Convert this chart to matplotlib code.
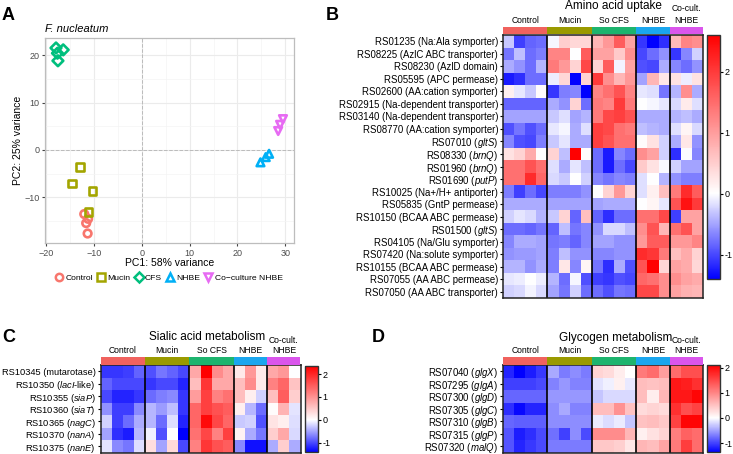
import numpy as np
import matplotlib
matplotlib.use("Agg")
import matplotlib.pyplot as plt
from matplotlib.colors import LinearSegmentedColormap
from matplotlib.lines import Line2D

plt.rcParams['font.family'] = ['Liberation Sans', 'DejaVu Sans']
plt.rcParams['mathtext.fontset'] = 'custom'
plt.rcParams['mathtext.rm'] = 'Liberation Sans'
plt.rcParams['mathtext.it'] = 'Liberation Sans:italic'

W, H = 733, 454

# ---- PCA (panel A) ----
pca_groups = ["Control", "Mucin", "CFS", "NHBE", "Co\u2212culture NHBE"]
pca_colors = ["#F8766D", "#A3A500", "#00BF7D", "#00B0F6", "#E76BF3"]
pca_markers = ["o", "s", "D", "^", "v"]
control_pc1 = [-12.0, -11.2, -11.6, -11.3]
control_pc2 = [-13.5, -14.5, -15.4, -17.6]
mucin_pc1 = [-12.9, -14.6, -10.3, -11.1]
mucin_pc2 = [-3.6, -7.1, -8.6, -13.1]
cfs_pc1 = [-17.9, -16.4, -17.6, -17.5]
cfs_pc2 = [21.5, 21.1, 20.4, 18.8]
nhbe_pc1 = [24.8, 25.9, 26.6]
nhbe_pc2 = [-2.6, -1.5, -0.8]
cocult_pc1 = [29.5, 28.9, 28.5]
cocult_pc2 = [6.5, 5.3, 4.0]

# ---- heatmap columns ----
conditions = ["Control", "Mucin", "So CFS", "NHBE", "Co-cult.\nNHBE"]
cond_sizes = [4, 4, 4, 3, 3]
cond_colors = ["#F0625E", "#9A9A00", "#1DB46E", "#1AA6EE", "#DA55EC"]

amino_genes = ["RS01235 (Na:Ala symporter)", "RS08225 (AzlC ABC transporter)",
               "RS08230 (AzlD domain)", "RS05595 (APC permease)",
               "RS02600 (AA:cation symporter)", "RS02915 (Na-dependent transporter)",
               "RS03140 (Na-dependent transporter)", "RS08770 (AA:cation symporter)",
               r"RS07010 ($\mathit{gltS}$)", r"RS08330 ($\mathit{brnQ}$)",
               r"RS01960 ($\mathit{brnQ}$)", r"RS01690 ($\mathit{putP}$)",
               "RS10025 (Na+/H+ antiporter)", "RS05835 (GntP permease)",
               "RS10150 (BCAA ABC permease)", r"RS01500 ($\mathit{gltS}$)",
               "RS04105 (Na/Glu symporter)", "RS07420 (Na:solute symporter)",
               "RS10155 (BCAA ABC permease)", "RS07055 (AA ABC permease)",
               "RS07050 (AA ABC transporter)"]
amino_values = [
    [-0.3, -1.05, -0.85, -0.8, -0.05, 0.5, 0.4, 0.4, 0.75, 1.05, 1.65, 0.95, -1.1, -1.4, -1.15, 0.7, 1.25, 1.15],
    [-0.75, -0.35, -0.8, -0.7, 1.25, 1.25, 0.0, 1.65, 0.95, 0.95, 0.55, 1.15, -1.0, -0.8, -0.6, -1.1, -0.65, -0.25],
    [-0.45, -0.6, -0.8, -0.4, 1.35, 1.05, 0.45, 1.85, 0.45, 1.65, -0.06, 0.95, -0.95, -1.0, -0.45, -0.65, -0.8, -0.6],
    [-1.25, -1.15, -0.8, -0.8, -0.1, 0.4, -1.4, 0.45, 2.0, 1.15, 0.75, 1.05, -0.5, 0.75, 0.25, 0.3, -0.1, 0.3],
    [0.15, -0.12, -0.3, 0.05, -1.1, -0.7, -0.65, -1.4, 1.25, 1.45, 1.75, 1.25, -0.12, -0.18, -0.75, -0.4, 1.15, -0.45],
    [-0.85, -0.85, -0.85, -0.85, -0.45, -0.6, 0.45, -0.8, 1.35, 1.25, 2.0, 1.35, 0.0, -0.05, -0.12, -0.2, 0.2, -0.18],
    [-0.5, -0.5, -0.5, -0.5, -0.3, -0.18, -0.5, -0.4, 1.35, 1.85, 1.95, 1.75, -0.45, -0.45, -0.45, -0.4, -0.35, -0.45],
    [-0.95, -0.75, -0.95, -0.8, -0.12, -0.05, -0.45, -0.18, 1.95, 1.85, 1.45, 1.35, -0.35, -0.4, -0.45, -0.18, 0.1, -0.2],
    [-0.65, -0.95, -1.0, -0.7, -0.3, -0.15, -0.45, -0.45, 1.95, 1.75, 1.45, 1.45, 0.05, 0.3, -0.25, -0.45, 0.25, -0.6],
    [0.3, 0.45, 0.85, 0.03, 0.45, -0.35, 2.6, 0.03, -0.8, -1.25, -0.65, -0.8, 1.15, 0.95, -0.25, -1.15, -0.02, -0.65],
    [1.45, 1.45, 1.75, 1.45, -0.18, -0.45, -0.15, -0.35, -0.8, -1.25, -0.8, -1.0, 0.55, 0.3, -0.03, -0.25, -0.5, -0.5],
    [1.45, 1.45, 2.15, 1.55, -0.2, -0.3, 0.0, -0.25, -0.65, -0.75, -0.65, -0.7, -0.18, 0.0, -0.4, -0.6, -0.7, -0.7],
    [-0.7, -1.05, -0.8, -1.0, -0.7, -0.7, -0.7, -0.6, 0.0, 0.45, 1.05, 0.45, -0.18, 0.15, 0.65, 1.35, 2.15, 1.65],
    [-0.45, -0.45, -0.45, -0.45, -0.5, -0.5, -0.5, -0.5, -0.5, -0.45, -0.45, -0.45, 0.0, 0.1, -0.12, 1.75, 2.4, 2.0],
    [-0.25, -0.15, -0.2, -0.4, -0.3, 0.45, -0.85, 0.65, -0.85, -1.15, -0.8, -0.8, 1.45, 1.45, 1.85, -1.05, 0.95, 0.95],
    [-0.8, -0.8, -0.85, -0.75, -0.85, -0.35, -0.75, -0.65, -0.6, -0.2, -0.2, -0.35, 1.15, 1.75, 0.75, 1.45, 1.75, 0.95],
    [-0.65, -0.45, -0.45, -0.5, -0.75, -0.7, -0.85, -0.65, -0.5, -0.5, -0.6, -0.6, 1.05, 1.65, 1.65, 1.05, 1.05, 1.25],
    [-0.6, -0.55, -0.55, -0.5, -0.7, -0.35, -0.6, -0.6, -0.65, -0.65, -0.6, -0.6, 2.15, 2.05, 1.35, 0.65, 0.85, 0.45],
    [-0.4, -0.4, -0.6, -0.45, -0.7, 0.25, -0.65, 0.1, -0.75, -1.15, -0.45, -0.95, 1.75, 2.6, 0.4, 0.95, 0.85, 0.4],
    [-0.12, -0.1, 0.0, -0.1, -0.4, -0.8, -0.05, -0.95, -1.05, -1.1, -0.95, -1.0, 1.55, 1.45, 1.15, 1.15, 0.95, 0.85],
    [-0.25, -0.2, -0.06, -0.2, -0.5, -0.75, -0.25, -0.8, -0.8, -0.95, -0.75, -0.8, 1.85, 1.85, 1.15, 0.95, 0.8, 0.75],
]

sialic_genes = ["RS10345 (mutarotase)", r"RS10350 ($\mathit{lacI}$-like)",
                r"RS10355 ($\mathit{siaP}$)", r"RS10360 ($\mathit{siaT}$)",
                r"RS10365 ($\mathit{nagC}$)", r"RS10370 ($\mathit{nanA}$)",
                r"RS10375 ($\mathit{nanE}$)"]
sialic_values = [
    [-1.1, -1.1, -1.05, -0.85, -0.95, -0.75, -0.85, -1.0, 0.8, 2.35, 1.05, 0.8, 0.2, 0.95, 0.2, 0.8, 0.95, 0.0],
    [-0.85, -1.0, -1.0, -1.0, -1.1, -1.0, -1.0, -1.2, 0.6, 1.85, 0.8, 0.8, 0.6, 1.05, 0.2, 1.15, 1.4, 0.55],
    [-1.0, -1.2, -1.2, -1.1, -0.8, -0.7, -0.65, -1.1, 0.9, 1.75, 1.15, 1.3, 0.6, 0.15, -0.25, 0.6, 1.5, 0.45],
    [-0.6, -1.05, -1.05, -0.65, -0.4, -0.55, -0.35, -1.1, 1.4, 1.75, 1.6, 1.5, 0.15, -0.4, -0.8, 0.03, 0.7, -0.15],
    [-0.25, -1.05, -0.8, -0.45, -0.4, -0.8, -0.18, -1.2, 1.4, 2.25, 1.7, 1.4, -0.3, -0.25, -0.95, 0.25, 0.15, -0.18],
    [-0.5, -1.15, -1.25, -0.4, -0.08, -0.95, 0.0, -1.4, 1.3, 1.7, 1.15, 1.75, 0.12, -0.45, -0.75, 0.45, 0.8, -0.2],
    [-0.15, -0.65, -0.75, -0.18, 0.3, -0.5, 0.35, -1.0, 1.15, 1.85, 1.6, 1.5, -0.65, -1.3, -1.3, -0.45, 0.45, -0.45],
]

glycogen_genes = [r"RS07040 ($\mathit{glgX}$)", r"RS07295 ($\mathit{glgA}$)",
                  r"RS07300 ($\mathit{glgD}$)", r"RS07305 ($\mathit{glgC}$)",
                  r"RS07310 ($\mathit{glgB}$)", r"RS07315 ($\mathit{glgP}$)",
                  r"RS07320 ($\mathit{malQ}$)"]
glycogen_values = [
    [-1.15, -1.35, -1.2, -1.05, -0.45, -0.7, -0.6, -0.7, 0.35, 0.3, 0.15, 0.0, 1.1, 1.2, 0.8, 1.2, 1.45, 1.45],
    [-1.0, -1.0, -1.0, -0.95, -0.65, -0.55, -0.65, -0.65, -0.15, -0.08, 0.12, -0.12, 0.55, 0.5, 0.55, 1.9, 1.85, 1.7],
    [-0.8, -0.8, -0.8, -0.8, -0.55, -0.55, -0.55, -0.55, -0.3, -0.2, -0.2, -0.2, 0.55, 0.15, 0.6, 1.9, 1.9, 2.05],
    [-1.1, -1.3, -1.15, -1.15, -0.6, -0.45, -0.65, -0.65, 0.55, 0.55, 0.9, 0.5, 0.3, 0.35, 0.3, 1.7, 1.45, 1.55],
    [-0.8, -0.85, -0.85, -0.85, -0.6, -0.6, -0.6, -0.6, -0.1, -0.18, -0.1, -0.3, 0.5, 0.55, 0.45, 1.55, 2.05, 2.05],
    [-0.9, -1.2, -1.1, -0.95, -0.75, -1.0, -0.6, -0.95, 0.95, 0.95, 0.95, 0.6, 0.12, 0.25, 0.35, 1.05, 1.3, 1.2],
    [-0.9, -1.15, -1.05, -0.95, -0.7, -0.7, -0.7, -0.7, 0.45, 0.45, 0.4, 0.2, 0.6, 0.55, 0.75, 1.1, 1.6, 1.2],
]


def box(x0, y0, x1, y1):
    # pixel box (top-left origin) -> figure fraction rect
    return [x0 / W, 1 - y1 / H, (x1 - x0) / W, (y1 - y0) / H]


def ftext(x, y, s, **kw):
    fig.text(x / W, 1 - y / H, s, **kw)


fig = plt.figure(figsize=(W / 100, H / 100), dpi=100)

# ---------------- panel A ----------------
ax = fig.add_axes(box(45, 38, 293.5, 243))
ax.set_xlim(-20.2, 31.7)
ax.set_ylim(-19.6, 23.6)
ax.set_xticks([-20, -10, 0, 10, 20, 30])
ax.set_xticks([-15, -5, 5, 15, 25], minor=True)
ax.set_yticks([-10, 0, 10, 20])
ax.set_yticks([-15, -5, 5, 15], minor=True)
ax.grid(which="major", color="#ebebeb", lw=0.8)
ax.grid(which="minor", color="#f4f4f4", lw=0.5)
ax.set_axisbelow(True)
ax.tick_params(which="minor", length=0)
ax.tick_params(which="major", length=2.5, color="#444444", labelsize=6.5,
               labelcolor="#4d4d4d", pad=1.5)
for s in ax.spines.values():
    s.set_color("#bdbdbd")
    s.set_linewidth(0.9)
ax.axhline(0, ls="--", color="#bbbbbb", lw=0.7, zorder=1)
ax.axvline(0, ls="--", color="#bbbbbb", lw=0.7, zorder=1)
pcs = [(control_pc1, control_pc2), (mucin_pc1, mucin_pc2), (cfs_pc1, cfs_pc2),
       (nhbe_pc1, nhbe_pc2), (cocult_pc1, cocult_pc2)]
for (px, py), c, m in zip(pcs, pca_colors, pca_markers):
    ax.scatter(px, py, marker=m, facecolors="none", edgecolors=c, s=30,
               linewidths=1.9, zorder=3)
ax.set_xlabel("PC1: 58% variance", fontsize=7.5, labelpad=0.5)
ax.set_ylabel("PC2: 25% variance", fontsize=7.5, labelpad=1)
ftext(45, 29, "F. nucleatum", fontsize=8, fontstyle="italic", ha="left", va="center")
handles = [Line2D([], [], ls="", marker=m, mfc="none", mec=c, mew=1.8, ms=5.3)
           for c, m in zip(pca_colors, pca_markers)]
fig.legend(handles, pca_groups, loc="center", bbox_to_anchor=(169 / W, 1 - 278 / H),
           ncol=5, frameon=False, fontsize=6.1, handlelength=0.9, handletextpad=0.3,
           columnspacing=0.5, borderaxespad=0)


# ---------------- heatmaps ----------------
def draw_heatmap(hm, bar, cb, values, genes, vmin, vmax, title, title_xy, lsp, gsize):
    data = np.array(values)
    cmap = LinearSegmentedColormap.from_list(
        "bw_r", [(0, "#0000ff"), (-vmin / (vmax - vmin), "#ffffff"), (1, "#ff0000")])
    hax = fig.add_axes(box(*hm))
    mesh = hax.pcolormesh(data, cmap=cmap, vmin=vmin, vmax=vmax)
    hax.set_xlim(0, data.shape[1])
    hax.set_ylim(data.shape[0], 0)
    hax.set_xticks([])
    hax.set_yticks(np.arange(len(genes)) + 0.5)
    hax.set_yticklabels(genes, fontsize=gsize)
    hax.tick_params(axis="y", length=2.5, width=0.8, pad=1)
    for s in hax.spines.values():
        s.set_linewidth(1.1)
        s.set_color("#222222")
    edges = np.cumsum(cond_sizes)
    for b in edges[:-1]:
        hax.axvline(b, color="black", lw=1.2)

    gax = fig.add_axes(box(*bar))
    starts = edges - np.array(cond_sizes)
    gax.barh(0.5, cond_sizes, left=starts, height=1, color=cond_colors)
    gax.set_xlim(0, data.shape[1])
    gax.set_ylim(0, 1)
    gax.axis("off")
    for st, n, lbl in zip(starts, cond_sizes, conditions):
        gax.annotate(lbl, (st + n / 2, 1), xytext=(0, 1.2), textcoords="offset points",
                     ha="center", va="bottom", fontsize=6.2, linespacing=lsp)

    cax = fig.add_axes(box(*cb))
    cbar = fig.colorbar(mesh, cax=cax, ticks=[-1, 0, 1, 2])
    cbar.set_ticklabels(["-1", "0", "1", "2"])
    cbar.outline.set_linewidth(1)
    cbar.outline.set_edgecolor("#333333")
    cax.tick_params(labelsize=6.5, length=2.2, width=0.8, pad=1.2)
    ftext(title_xy[0], title_xy[1], title, fontsize=8.5, ha="center", va="center")


draw_heatmap((503, 35, 703, 298), (503, 27, 703, 34), (707, 35, 720, 279),
             amino_values, amino_genes, -1.4, 2.6, "Amino acid uptake", (613, 5.5), 1.45, 6.9)
draw_heatmap((100.5, 365, 300.5, 452.5), (100.5, 357, 300.5, 364.5), (305, 366, 318, 452),
             sialic_values, sialic_genes, -1.4, 2.35, "Sialic acid metabolism", (207, 337), 1.25, 6.7)
draw_heatmap((503, 365, 703, 452.5), (503, 357, 703, 364.5), (707, 365, 720, 452),
             glycogen_values, glycogen_genes, -1.35, 2.1, "Glycogen metabolism", (616, 338), 1.25, 6.9)

# panel letters
for lbl, x, y in [("A", 2, 15), ("B", 326, 15), ("C", 2, 337), ("D", 372, 337)]:
    ftext(x, y, lbl, fontsize=13, fontweight="bold", ha="left", va="center")

fig.savefig("out.png", dpi=100)
